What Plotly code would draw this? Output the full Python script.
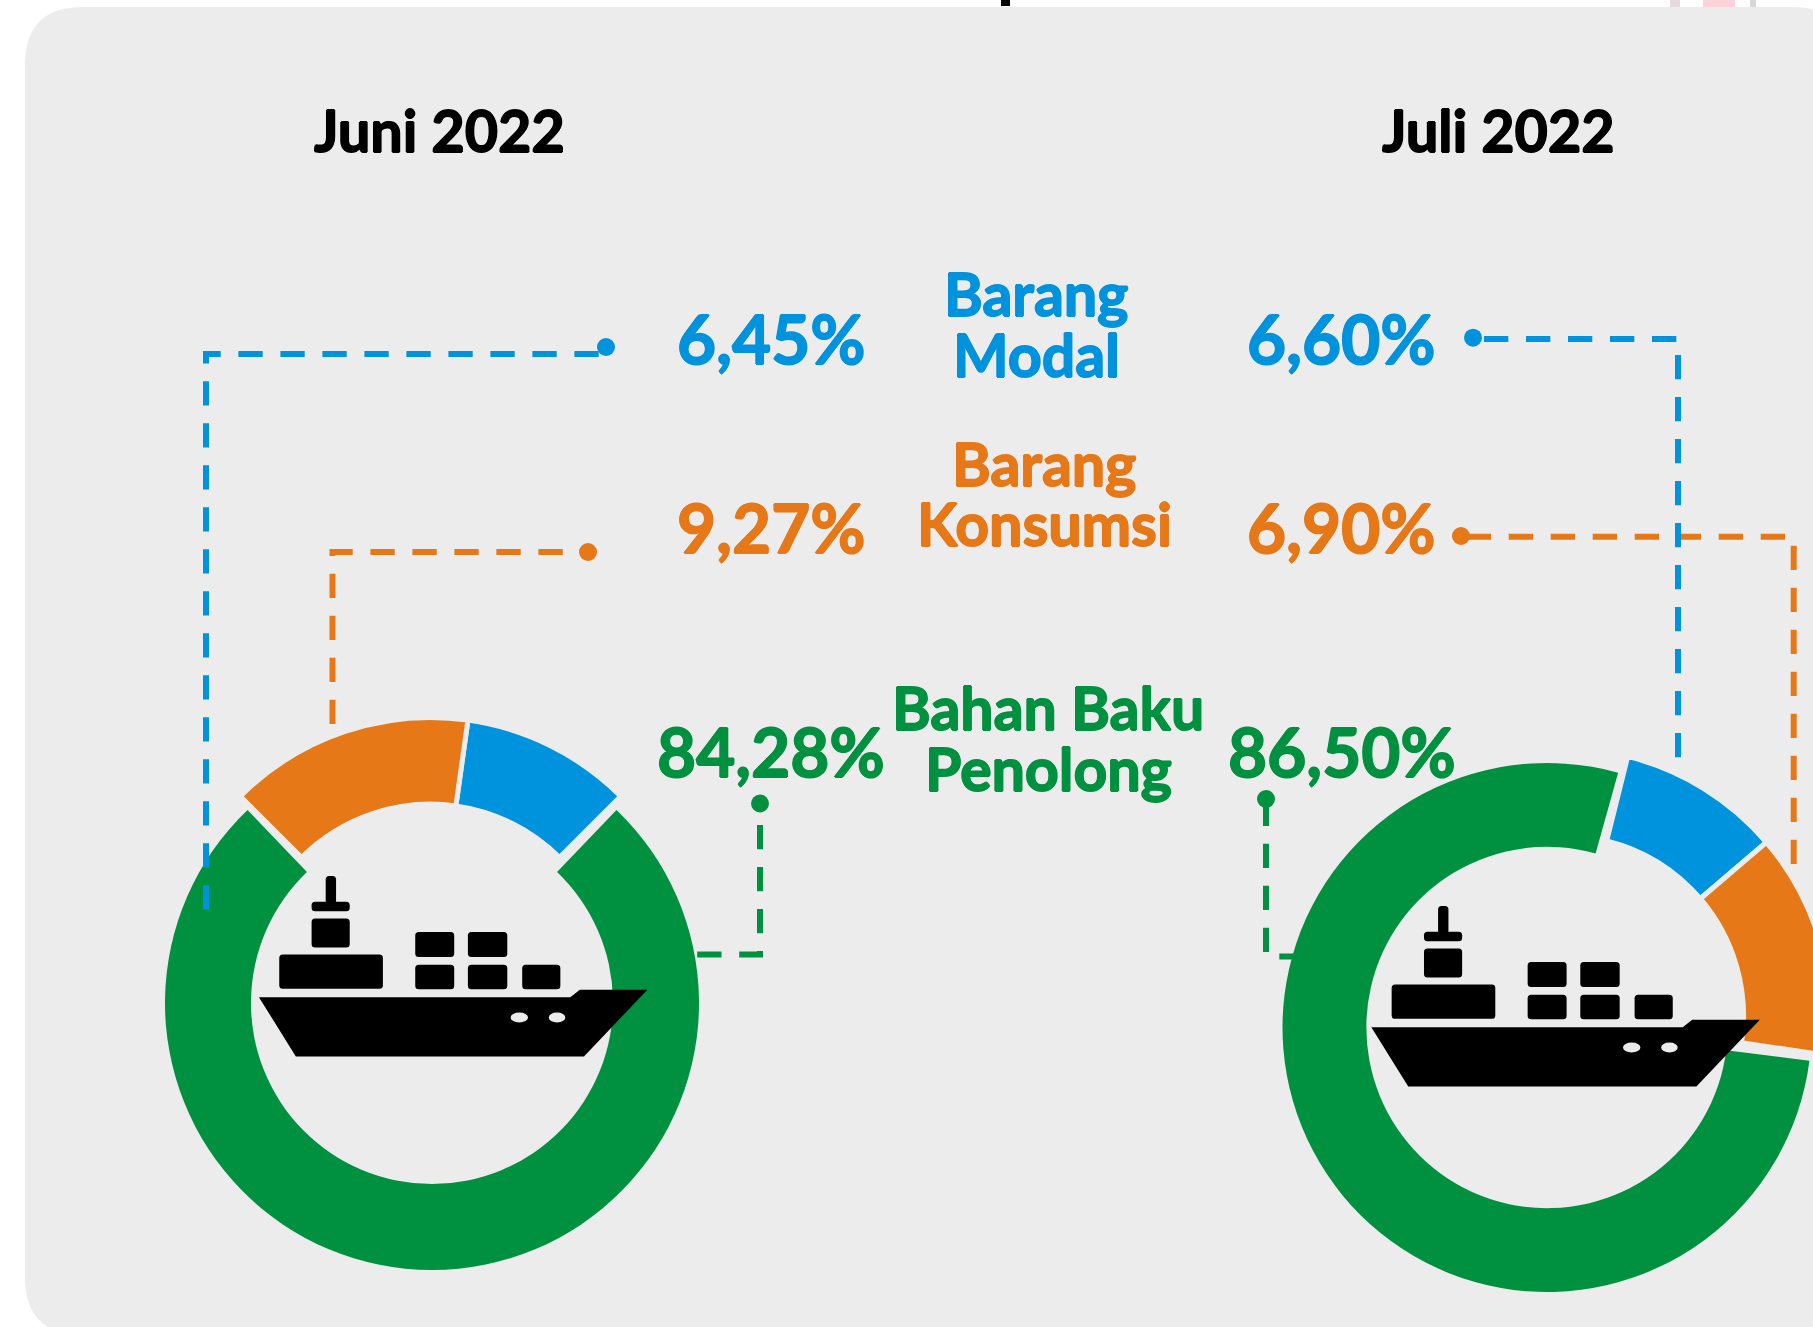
import plotly.graph_objects as go

# ---------- data ----------
slice_names = ["Barang Modal", "Barang Konsumsi", "Bahan Baku Penolong"]
juni_labels = ["6,45%", "9,27%", "84,28%"]
juli_labels = ["6,60%", "6,90%", "86,50%"]
# drawn arc of each slice, degrees (as measured on the picture)
juni_arcs = [37.0, 53.0, 272.6]
juli_arcs = [35.5, 49.0, 278.4]

# ---------- layout ----------
W, H = 1860, 1345
BG = "#ececec"
BLUE, ORANGE, GREEN = "#0093dd", "#e67817", "#009140"
FONT = "Lato"


def dom(cx, cy, r):
    return dict(x=[(cx - r) / W, (cx + r) / W], y=[1 - (cy + r) / H, 1 - (cy - r) / H])


def ring(cx, cy, r, hole, values, colors, widths, rotation):
    return go.Pie(values=values, domain=dom(cx, cy, r), hole=hole, sort=False,
                  direction="clockwise", rotation=rotation, textinfo="none",
                  hoverinfo="skip", showlegend=False,
                  marker=dict(colors=colors, line=dict(color=BG, width=widths)))


T = "rgba(0,0,0,0)"
fig = go.Figure()
# Juni: green ring, then the blue/orange pair lifted out of it
fig.add_trace(ring(432, 1003, 267, 0.678, [juni_arcs[2], 360 - juni_arcs[2]], [GREEN, T], [0, 0], 43.7))
fig.add_trace(ring(430.5, 986.5, 269, 0.678, [juni_arcs[0], 360 - juni_arcs[0] - juni_arcs[1], juni_arcs[1]],
                   [BLUE, T, ORANGE], [5, 0, 5], 8.0))
# Juli
fig.add_trace(ring(1547, 1027.5, 264.5, 0.683, [juli_arcs[2], 360 - juli_arcs[2]], [GREEN, T], [0, 0], 97.2))
fig.add_trace(ring(1563, 1016, 267.5, 0.675, [juli_arcs[0], juli_arcs[1], 360 - juli_arcs[0] - juli_arcs[1]],
                   [BLUE, ORANGE, T], [5, 5, 0], 14.0))

# connector dots
dots = [(606, 347, BLUE), (588, 552, ORANGE), (760, 803.5, GREEN),
        (1473, 337.7, BLUE), (1461, 536, ORANGE), (1266, 799, GREEN)]
fig.add_trace(go.Scatter(x=[d[0] for d in dots], y=[d[1] for d in dots], mode="markers",
                         marker=dict(size=18, color=[d[2] for d in dots]),
                         hoverinfo="skip", showlegend=False))

shapes = []


def rect(x0, y0, x1, y1, color, layer="above"):
    shapes.append(dict(type="rect", x0=x0, y0=y0, x1=x1, y1=y1, fillcolor=color,
                       line=dict(width=0), layer=layer, xref="x", yref="y"))


def rrect(x0, y0, x1, y1, color, r=3):
    r = min(r, (x1 - x0) / 2, (y1 - y0) / 2)
    shapes.append(dict(type="path", layer="above", fillcolor=color, line=dict(width=0), xref="x", yref="y",
                       path=(f"M{x0 + r},{y0} L{x1 - r},{y0} Q{x1},{y0} {x1},{y0 + r} L{x1},{y1 - r} "
                             f"Q{x1},{y1} {x1 - r},{y1} L{x0 + r},{y1} Q{x0},{y1} {x0},{y1 - r} "
                             f"L{x0},{y0 + r} Q{x0},{y0} {x0 + r},{y0} Z")))


# panel
p = 58
px0, py0, px1, py1 = 25, 7, 1850, 1335
shapes.append(dict(type="path", layer="below", fillcolor=BG, line=dict(width=0), xref="x", yref="y",
                   path=(f"M{px0 + p},{py0} L{px1 - p},{py0} Q{px1},{py0} {px1},{py0 + p} "
                         f"L{px1},{py1 - p} Q{px1},{py1} {px1 - p},{py1} L{px0 + p},{py1} "
                         f"Q{px0},{py1} {px0},{py1 - p} L{px0},{py0 + p} Q{px0},{py0} {px0 + p},{py0} Z")))
# fragments of the cropped title and logo at the top edge
rect(1001, 0, 1010, 6, "#000000", "below")
rect(1703, 0, 1735, 7, "#fbd3d9", "below")
rect(1670, 0, 1680, 7, "#e4dbe0", "below")
rect(1750, 0, 1756, 7, "#d8d8d8", "below")


def leader(pts, color, layer):
    path = "M" + " L".join(f"{x},{y}" for x, y in pts)
    shapes.append(dict(type="path", path=path, layer=layer, xref="x", yref="y",
                       line=dict(color=color, width=6, dash="24.3px,17.7px")))


leader([(598.7, 354), (206, 354), (206, 911)], BLUE, "above")
leader([(562.7, 552), (332.5, 552), (332.5, 724)], ORANGE, "below")
leader([(760, 825), (760, 954.5), (690, 954.5)], GREEN, "below")
leader([(1466.7, 536.7), (1793.7, 536.7), (1793.7, 900)], ORANGE, "below")
leader([(1484, 339), (1678, 339), (1678, 790)], BLUE, "below")
leader([(1266, 801.7), (1266, 956.4), (1300, 956.4)], GREEN, "below")


def ship(ox, oy):
    s = 2.412

    def X(v):
        return 130 + v / s + ox

    def Y(v):
        return 680 + v / s + oy

    boxes = [(472, 473, 497, 540), (438, 535, 530, 558), (438, 575, 530, 645), (360, 662, 610, 745),
             (688, 608, 782, 668), (815, 608, 910, 668), (688, 687, 782, 746), (815, 687, 910, 746),
             (946, 687, 1038, 746)]
    for a, b, c, d in boxes:
        rrect(X(a), Y(b), X(c), Y(d), "#000000", 3.5)
    hull = [(311, 765), (1062, 765), (1085, 747), (1248, 747), (1095, 908), (400, 908)]
    shapes.append(dict(type="path", layer="above", fillcolor="#000000", line=dict(width=0), xref="x", yref="y",
                       path="M" + " L".join(f"{X(a)},{Y(b)}" for a, b in hull) + " Z"))
    for c, r in [(939, 21), (1030, 20)]:
        shapes.append(dict(type="circle", layer="above", fillcolor=BG, line=dict(width=0), xref="x", yref="y",
                           x0=X(c - r), x1=X(c + r), y0=Y(802), y1=Y(826)))


ship(0, 0)
ship(1112.4, 30)


def label(text, x, y, size, color):
    d = 0.8
    shadow = ", ".join(f"{a}px {b}px 0 {color}" for a, b in [(d, 0), (-d, 0), (0, d), (0, -d)])
    return dict(text=f"<b>{text}</b>", x=x, y=y, xref="x", yref="y", showarrow=False, xanchor="center",
                yanchor="middle", font=dict(family=FONT, size=size, color=color, shadow=shadow))


LBL = 67.5
anns = [
    label("Juni 2022", 439.5, 129.5, 57.5, "#000000"),
    label("Juli 2022", 1498.5, 129.5, 57.5, "#000000"),
    label(juni_labels[0], 771, 337.5, LBL, BLUE),
    label(juni_labels[1], 771, 526.5, LBL, ORANGE),
    label(juni_labels[2], 771, 750.5, LBL, GREEN),
    label(juli_labels[0], 1341.5, 337.5, LBL, BLUE),
    label(juli_labels[1], 1341.5, 526.5, LBL, ORANGE),
    label(juli_labels[2], 1341.5, 750.5, LBL, GREEN),
    label("Barang", 1036, 293.5, 59, BLUE),
    label("Modal", 1036, 354.5, 59, BLUE),
    label("Barang", 1044, 463.5, 59, ORANGE),
    label("Konsumsi", 1044, 523.5, 59, ORANGE),
    label("Bahan Baku", 1048, 707.5, 59, GREEN),
    label("Penolong", 1048, 768.5, 59, GREEN),
]

fig.update_layout(width=W, height=H, autosize=False, margin=dict(l=0, r=0, t=0, b=0),
                  paper_bgcolor="#ffffff", plot_bgcolor="rgba(0,0,0,0)",
                  xaxis=dict(range=[0, W], visible=False, fixedrange=True),
                  yaxis=dict(range=[H, 0], visible=False, fixedrange=True),
                  shapes=shapes, annotations=anns)

fig.write_html("out.html", config=dict(displayModeBar=False),
               post_script="document.body.style.margin='0';document.documentElement.style.overflow='hidden';document.body.style.overflow='hidden';")
